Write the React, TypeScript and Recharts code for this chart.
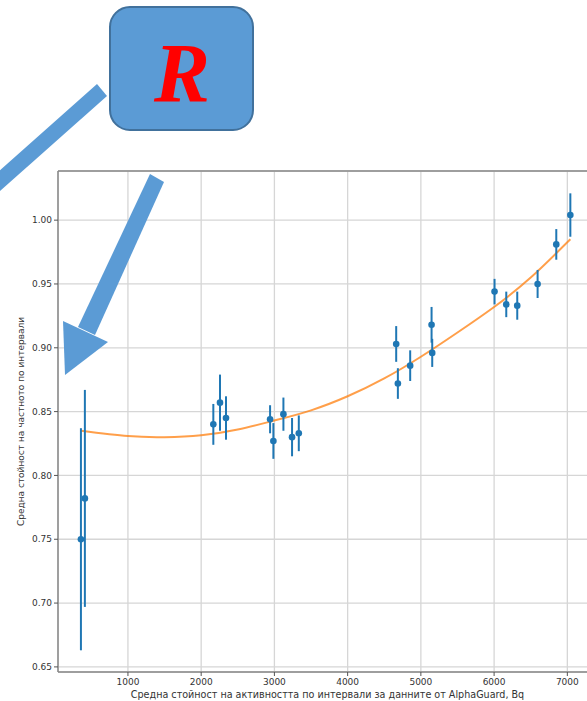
import {
  CartesianGrid,
  ComposedChart,
  ErrorBar,
  Line,
  ReferenceLine,
  Scatter,
  XAxis,
  YAxis,
} from 'recharts';

// measured points: mean activity (Bq), mean ratio, error
const activity = [
  358, 412, 2166, 2257, 2339, 2941, 2986, 3123, 3241, 3333,
  4663, 4686, 4854, 5146, 5155, 6006, 6166, 6316, 6594, 6849, 7041,
];
const ratio = [
  0.75, 0.782, 0.840, 0.857, 0.845, 0.844, 0.827, 0.848, 0.830, 0.833,
  0.903, 0.872, 0.886, 0.918, 0.896, 0.944, 0.934, 0.933, 0.950, 0.981, 1.004,
];
const ratioErr = [
  0.087, 0.085, 0.016, 0.022, 0.017, 0.011, 0.014, 0.013, 0.015, 0.014,
  0.014, 0.012, 0.012, 0.014, 0.011, 0.010, 0.010, 0.011, 0.011, 0.012, 0.017,
];

// fitted curve
const fitX = [358, 1000, 1500, 2000, 2500, 3000, 3500, 4000, 4500, 5000, 5500, 6000, 6500, 7041];
const fitY = [0.835, 0.8308, 0.830, 0.8315, 0.836, 0.843, 0.851, 0.862, 0.876, 0.893, 0.912, 0.932, 0.955, 0.985];

const xTicks = [1000, 2000, 3000, 4000, 5000, 6000, 7000];
const yTicks = [0.65, 0.7, 0.75, 0.8, 0.85, 0.9, 0.95, 1.0];

const points = activity.map((x, i) => ({ x, y: ratio[i], err: ratioErr[i] }));
const fit = fitX.map((x, i) => ({ x, fit: fitY[i] }));

const BLUE = '#1f77b4';
const FONT = '"DejaVu Sans", sans-serif';
const tickStyle = { fontSize: 9, fill: '#333', fontFamily: FONT };

const YTitle = (props: any) => {
  const vb = props.viewBox;
  const cx = vb.x + 21;
  const cy = vb.y + vb.height / 2;
  return (
    <text
      x={cx}
      y={cy}
      transform={`rotate(-90 ${cx} ${cy})`}
      textAnchor="middle"
      dominantBaseline="central"
      fontSize={9}
      fill="#333"
      fontFamily={FONT}
    >
      Средна стойност на частното по интервали
    </text>
  );
};

function Annotation() {
  return (
    <svg width={587} height={701} style={{ position: 'absolute', left: 0, top: 0, pointerEvents: 'none' }}>
      {/* left arrow going out of the frame */}
      <polygon points="97,84 107,96 -10,200 -20,188" fill="#5b9bd5" />
      {/* arrow pointing at the first points */}
      <polygon points="150,174 164,182 95,335 78,327" fill="#5b9bd5" />
      <polygon points="63,321 108,342 65,375" fill="#5b9bd5" />
      <rect x={110} y={7} width={143} height={123} rx={20} fill="#5b9bd5" stroke="#41719c" strokeWidth={2} />
      <text
        x={182}
        y={102}
        textAnchor="middle"
        fontSize={84}
        fontWeight="bold"
        fontStyle="italic"
        fill="#ff0000"
        fontFamily='"Liberation Serif", serif'
      >
        R
      </text>
    </svg>
  );
}

export default function App() {
  return (
    <div
      style={{
        position: 'fixed',
        left: 0,
        top: 0,
        width: 587,
        height: 701,
        overflow: 'hidden',
        background: '#fff',
      }}
    >
      <ComposedChart width={640} height={701} margin={{ top: 171, right: 43, bottom: 0, left: 0 }}>
        <CartesianGrid stroke="#d6d6d6" strokeWidth={1.3} />
        <XAxis
          type="number"
          dataKey="x"
          domain={[45, 7405]}
          ticks={xTicks}
          allowDataOverflow
          height={29}
          tick={tickStyle}
          tickSize={4}
          tickMargin={3}
          tickLine={{ stroke: '#555' }}
          axisLine={{ stroke: '#888', strokeWidth: 1.5 }}
          label={{
            value: 'Средна стойност на активността по интервали за данните от AlphaGuard, Bq',
            position: 'insideBottom',
            offset: 3,
            fontSize: 9.6,
            fill: '#333',
            fontFamily: FONT,
          }}
        />
        <YAxis
          type="number"
          domain={[0.646, 1.0385]}
          ticks={yTicks}
          allowDataOverflow
          width={58}
          tick={tickStyle}
          tickSize={4}
          tickLine={{ stroke: '#555' }}
          tickFormatter={(v: number) => v.toFixed(2)}
          axisLine={{ stroke: '#888', strokeWidth: 1.5 }}
          label={<YTitle />}
        />
        <ReferenceLine y={1.0385} stroke="#888" strokeWidth={1.5} />
        <Line
          data={fit}
          dataKey="fit"
          type="natural"
          stroke="#ff7f0e"
          strokeOpacity={0.75}
          strokeWidth={2}
          dot={false}
          isAnimationActive={false}
        />
        <Scatter
          data={points}
          dataKey="y"
          fill={BLUE}
          isAnimationActive={false}
          shape={(p: any) => <circle cx={p.cx} cy={p.cy} r={3.3} fill={BLUE} />}
        >
          <ErrorBar dataKey="err" direction="y" width={0} stroke={BLUE} strokeWidth={2} />
        </Scatter>
      </ComposedChart>
      <Annotation />
    </div>
  );
}
